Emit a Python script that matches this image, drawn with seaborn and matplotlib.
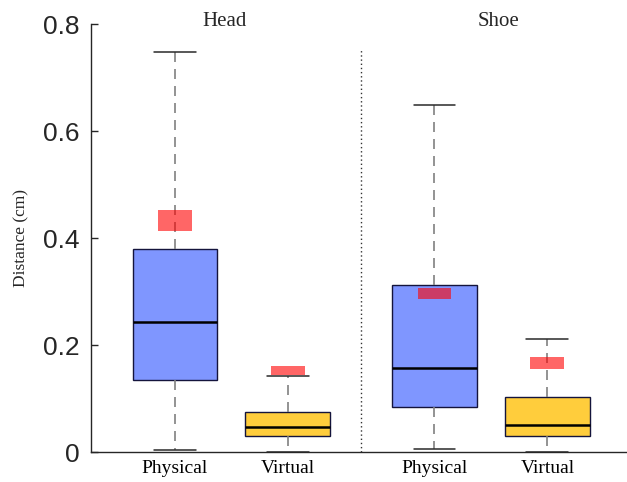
import matplotlib
matplotlib.use("Agg")
import matplotlib.pyplot as plt
import seaborn as sns

# Summary statistics per condition (Head: Physical, Virtual; Shoe: Physical, Virtual)
groups = ["Head", "Shoe"]
conditions = ["Physical", "Virtual", "Physical", "Virtual"]
medians = [0.2436, 0.046, 0.1564, 0.0505]
q1 = [0.134, 0.0293, 0.0847, 0.0293]
q3 = [0.379, 0.0754, 0.3115, 0.1022]
whisker_low = [0.004, 0.0, 0.0062, 0.0006]
whisker_high = [0.748, 0.142, 0.6486, 0.2118]
# Mean interval markers
mean_low = [0.414, 0.144, 0.287, 0.156]
mean_high = [0.452, 0.161, 0.3065, 0.177]

positions = [1.0, 2.0, 3.3, 4.3]
box_colors = ["#7f96ff", "#ffcd3c", "#7f96ff", "#ffcd3c"]

sns.set_style("ticks")
plt.rcParams["font.family"] = ["Liberation Serif", "DejaVu Serif"]

fig, ax = plt.subplots(figsize=(6.27, 4.82), dpi=100)
fig.subplots_adjust(left=0.1451, right=0.999, bottom=0.0622, top=0.950)

stats = [
    dict(med=m, q1=a, q3=b, whislo=lo, whishi=hi, fliers=[])
    for m, a, b, lo, hi in zip(medians, q1, q3, whisker_low, whisker_high)
]
bp = ax.bxp(
    stats, positions=positions, widths=0.75, capwidths=0.37,
    patch_artist=True, showfliers=False, manage_ticks=False,
    boxprops=dict(edgecolor="#14143c", linewidth=1.0),
    medianprops=dict(color="black", linewidth=1.8),
    whiskerprops=dict(color="#808080", linewidth=1.2, linestyle=(0, (6, 4.2))),
    capprops=dict(color="#2a2a2a", linewidth=1.1),
)
for patch, c in zip(bp["boxes"], box_colors):
    patch.set_facecolor(c)

heights = [h - l for l, h in zip(mean_low, mean_high)]
ax.bar(positions, heights, bottom=mean_low, width=0.30, color="red",
       alpha=0.6, linewidth=0, zorder=5)

# Separator between the two groups
ax.vlines(2.65, 0, 0.751, colors="#333333", linewidth=1.0, linestyles=(0, (1, 2)))

ax.text(1.44, 0.797, groups[0], ha="center", va="baseline", fontsize=15)
ax.text(3.87, 0.797, groups[1], ha="center", va="baseline", fontsize=15)

ax.set_xlim(0.257, 5.0)
ax.set_ylim(0, 0.8)
ax.set_xticks(positions, labels=conditions)
ax.set_yticks([0, 0.2, 0.4, 0.6, 0.8], labels=["0", "0.2", "0.4", "0.6", "0.8"])
ax.tick_params(axis="x", length=0, pad=6, labelsize=14, labelcolor="black")
ax.tick_params(axis="y", direction="in", length=5, width=1, pad=8,
               labelsize=19, labelcolor="#262626", color="#262626")
for lab in ax.get_yticklabels():
    lab.set_fontfamily(["Liberation Sans", "DejaVu Sans"])

ax.set_ylabel("Distance (cm)", fontsize=12.5, labelpad=10)

sns.despine(ax=ax)
for s in ("left", "bottom"):
    ax.spines[s].set_color("#262626")
    ax.spines[s].set_linewidth(1.0)

fig.savefig("out.png", dpi=100)
